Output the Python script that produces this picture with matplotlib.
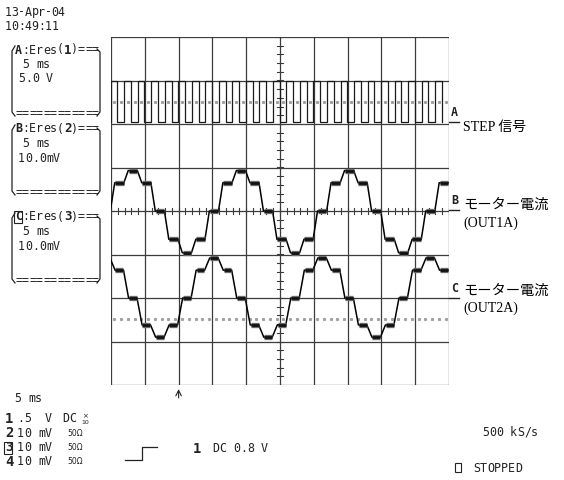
import numpy as np
import matplotlib
matplotlib.use('Agg')
import matplotlib.pyplot as plt
from matplotlib.patches import Rectangle

# ---- data (units: divisions) ----
step_len = 0.4          # one motor step = 0.4 div (25 steps on screen)
# channel B (OUT1A) plateau level of every step, first entry = level before t=0
b_levels = [0.0, 0.65, 0.93, 0.65, 0.0, -0.65, -0.96, -0.65,
            0.0, 0.65, 0.93, 0.65, 0.0, -0.65, -0.96, -0.65,
            0.0, 0.65, 0.93, 0.65, 0.0, -0.65, -0.96, -0.65,
            0.0, 0.65]
# channel C (OUT2A), zero level sits at -2 div
c_levels = [-1.08, -1.36, -2.0, -2.62, -2.9, -2.62, -2.0, -1.36,
            -1.08, -1.36, -2.0, -2.62, -2.9, -2.62, -2.0, -1.36,
            -1.08, -1.36, -2.0, -2.62, -2.9, -2.62, -2.0, -1.36,
            -1.08, -1.36]
# channel A (STEP pulses)
a_high, a_low = 3.0, 2.05
a_width = 0.2
a_ref, c_ref = 2.5, -2.48
trig_pos = 2.0

fig = plt.figure(figsize=(5.64, 4.8), dpi=100)
ov = fig.add_axes([0, 0, 1, 1])
ov.set_xlim(0, 564)
ov.set_ylim(480, 0)
ov.axis('off')

ink = '#222222'
MONO = 'DejaVu Sans Mono'


def mono(x, y, s, bold=(), size=8.4, pitch=7.0):
    for i, ch in enumerate(s):
        if ch == ' ':
            continue
        ov.text(x + i * pitch, y, ch, family=MONO, fontsize=size,
                fontweight='bold' if i in bold else 'normal',
                ha='left', va='center', color=ink)


def boxed(x, y, ch, size=8.4):
    ov.text(x, y, ch, family=MONO, fontsize=size, fontweight='bold',
            ha='left', va='center', color=ink)
    ov.add_patch(Rectangle((x - 1, y - 6), 8, 12, fill=False, lw=0.8, ec=ink))


# date / time
mono(5, 12, '13-Apr-04', pitch=6.6)
mono(5, 26, '10:49:11', pitch=6.6)

# the three channel boxes
boxes = [('A', '1', 50, 114, '5.0 V'), ('B', '2', 129, 193, '10.0mV'),
         ('C', '3', 217, 281, '10.0mV')]
for letter, num, yh, yb, scale in boxes:
    if letter == 'C':
        boxed(15, yh, letter)
        mono(15, yh, ' :Eres( )===')
    else:
        mono(15, yh, letter + ':Eres( )===', bold=(0,))
    mono(15 + 7 * 7, yh, num, bold=(0,), size=9)
    mono(22, yh + 14.5, '5 ms')
    mono(18, yh + 29, scale)
    mono(15, yb, '============')
    ov.plot([15, 12, 12, 15], [yh - 4, yh + 1, yb - 2, yb + 2], color=ink, lw=0.9)
    ov.plot([97, 100, 100, 97], [yh - 1, yh + 2, yb - 2, yb + 2], color=ink, lw=0.9)

# bottom left settings
mono(14, 398, '5 ms')
rows = [('1', '.5  V', 'DC'), ('2', '10 mV', '50Ω'), ('3', '10 mV', '50Ω'), ('4', '10 mV', '50Ω')]
for i, (n, v, cpl) in enumerate(rows):
    y = 419 + i * 14.3
    if n == '3':
        boxed(5, y, n, size=9)
    else:
        ov.text(5, y, n, family=MONO, fontsize=10, fontweight='bold',
                ha='left', va='center', color=ink)
    mono(17, y, v)
    if cpl == 'DC':
        mono(62, y, 'DC')
        ov.text(85, y - 3, '×', fontsize=5, ha='center', va='center', color=ink)
        ov.text(85, y + 3, '10', fontsize=4.5, ha='center', va='center', color=ink)
    else:
        ov.text(67, y, cpl, fontsize=5.5, ha='left', va='center', color=ink)

# trigger symbol
ov.plot([125, 141.5, 141.5, 157], [460, 460, 447, 447], color=ink, lw=0.9)
ov.text(193, 449, '1', family=MONO, fontsize=10, fontweight='bold',
        ha='left', va='center', color=ink)
mono(212, 449, 'DC 0.8 V')

mono(482, 432, '500 kS/s')
ov.add_patch(Rectangle((455, 463), 6, 9, fill=False, lw=0.8, ec=ink))
mono(473, 468, 'STOPPED')

# channel markers and labels on the right
for letter, y in [('A', 122), ('B', 210), ('C', 298)]:
    ov.text(451, y - 9, letter, family=MONO, fontsize=8.4, fontweight='bold',
            ha='left', va='center', color=ink)
    ov.plot([449, 459], [y, y], color=ink, lw=1.0)

serif_cjk = ['Liberation Serif', 'Noto Sans CJK JP']
ov.text(463, 127, 'STEP 信号', family=serif_cjk, fontsize=10, ha='left', va='center', color='k')
ov.text(463, 205, 'モーター電流', family=['Noto Sans CJK JP'], fontsize=10.3, ha='left', va='center', color='k')
ov.text(463, 223, '(OUT1A)', family=serif_cjk, fontsize=10, ha='left', va='center', color='k')
ov.text(463, 291, 'モーター電流', family=['Noto Sans CJK JP'], fontsize=10.3, ha='left', va='center', color='k')
ov.text(463, 308, '(OUT2A)', family=serif_cjk, fontsize=10, ha='left', va='center', color='k')

# ---- the scope screen ----
ax = fig.add_axes([111 / 564, (480 - 385) / 480, 338 / 564, 348 / 480])
ax.set_xlim(0, 10)
ax.set_ylim(-4, 4)
ax.axis('off')
ax.patch.set_alpha(0)

gc = '#3c3c3c'
for i in range(11):
    ax.axvline(i, color=gc, lw=0.9, zorder=1)
for j in range(-4, 5):
    ax.axhline(j, color=gc, lw=0.9, zorder=1)
for v in np.arange(-4, 4.01, 0.2):
    ax.plot([4.92, 5.08], [v, v], color=gc, lw=0.8, zorder=1)
for v in np.arange(0, 10.01, 0.2):
    ax.plot([v, v], [-0.07, 0.07], color=gc, lw=0.8, zorder=1)

dots = np.arange(0.1, 10, 0.2)
ax.plot(dots, [a_ref] * len(dots), ls='none', marker='s', ms=1.2, color='#a0a0a0', zorder=1)
ax.plot(dots, [c_ref] * len(dots), ls='none', marker='s', ms=1.2, color='#a0a0a0', zorder=1)


def stepped(levels, t0, ramp):
    xs, ys = [], []
    for i, lv in enumerate(levels):
        ts = t0 + (i - 1) * step_len
        xs += [ts + ramp, ts + step_len]
        ys += [lv, lv]
    return xs, ys


for levels, t0, ramp in [(b_levels, -0.02, 0.13), (c_levels, -0.03, 0.15)]:
    xs, ys = stepped(levels, t0, ramp)
    ax.plot(xs, ys, color='k', lw=1.1, zorder=3)
    for i in range(0, len(xs), 2):
        seg_x = [xs[i] + 0.01, xs[i + 1] - 0.005]
        seg_y = [ys[i], ys[i + 1]]
        ax.plot(seg_x, seg_y, color='#6a6a6a', lw=3.8, solid_capstyle='butt', zorder=3)
        ax.plot(seg_x, seg_y, color='#111111', lw=2.0, solid_capstyle='butt', zorder=3)

# STEP pulse train
xa, ya = [], []
for i in range(len(b_levels)):
    tr = (i - 1) * step_len - 0.01
    xa += [tr, tr, tr + a_width, tr + a_width]
    ya += [a_low, a_high, a_high, a_low]
ax.plot(xa, ya, color='#1a1a1a', lw=0.9, zorder=3)

ax.annotate('', xy=(trig_pos, -4.03), xytext=(trig_pos, -4.36),
            arrowprops=dict(arrowstyle='->', lw=0.8, color=ink),
            annotation_clip=False)

fig.savefig('out.png', dpi=100)
